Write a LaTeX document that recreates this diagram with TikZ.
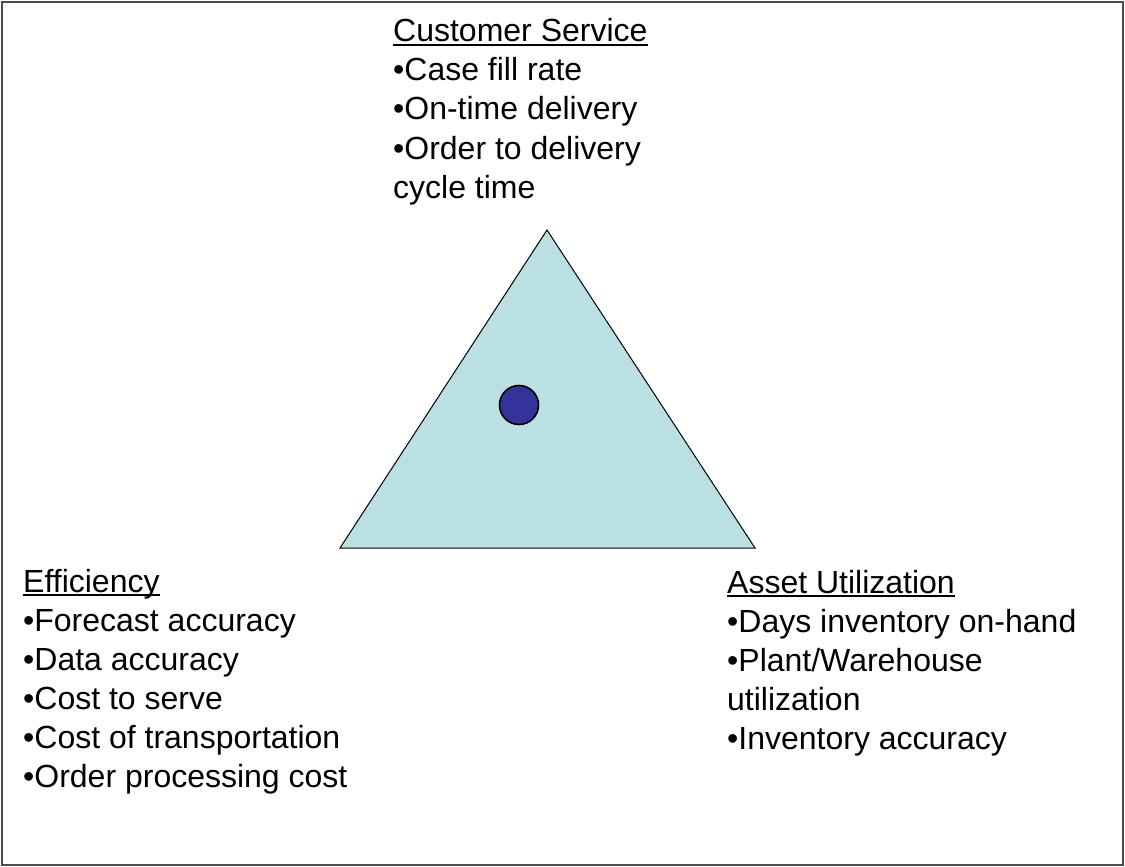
\documentclass[tikz,border=0pt]{standalone}
\usepackage{fontspec}
\setmainfont{Liberation Sans}
\definecolor{trifill}{HTML}{BBE0E3}
\definecolor{dotfill}{HTML}{333399}
\newcommand\myul[1]{\setbox0\hbox{#1}\rlap{\rule[-4pt]{\wd0}{2.2pt}}\box0}
\begin{document}
\begin{tikzpicture}[x=1pt,y=-1pt,
  txt/.style={anchor=base west, inner sep=0pt, font=\fontsize{32}{38.5}\selectfont}]
\useasboundingbox (0,0) rectangle (1125,867);
\draw[line width=1.6pt, black!70] (2,2) rectangle (1123,865);
% triangle
\coordinate (A) at (547,230);
\coordinate (B) at (340,548);
\coordinate (C) at (755,548);
\draw[fill=trifill, line width=1pt] (A) -- (B) -- (C) -- cycle;
\node[circle, draw, fill=dotfill, line width=1.6pt, minimum size=39pt, inner sep=0pt] (dot) at (519,405) {};
% Customer Service
\node[txt] (cs0) at (393,42) {\myul{Customer Service}};
\node[txt] (cs1) at (393,81) {•Case fill rate};
\node[txt] (cs2) at (393,120) {•On-time delivery};
\node[txt] (cs3) at (393,159) {•Order to delivery};
\node[txt] (cs4) at (393,198) {cycle time};
% Efficiency
\node[txt] (ef0) at (23,592) {\myul{Efficiency}};
\node[txt] (ef1) at (23,631) {•Forecast accuracy};
\node[txt] (ef2) at (23,670) {•Data accuracy};
\node[txt] (ef3) at (23,709) {•Cost to serve};
\node[txt] (ef4) at (23,748) {•Cost of transportation};
\node[txt] (ef5) at (23,787) {•Order processing cost};
% Asset Utilization
\node[txt] (au0) at (727,593) {\myul{Asset Utilization}};
\node[txt] (au1) at (727,632) {•Days inventory on-hand};
\node[txt] (au2) at (727,671) {•Plant/Warehouse};
\node[txt] (au3) at (727,710) {utilization};
\node[txt] (au4) at (727,749) {•Inventory accuracy};
\end{tikzpicture}
\end{document}
